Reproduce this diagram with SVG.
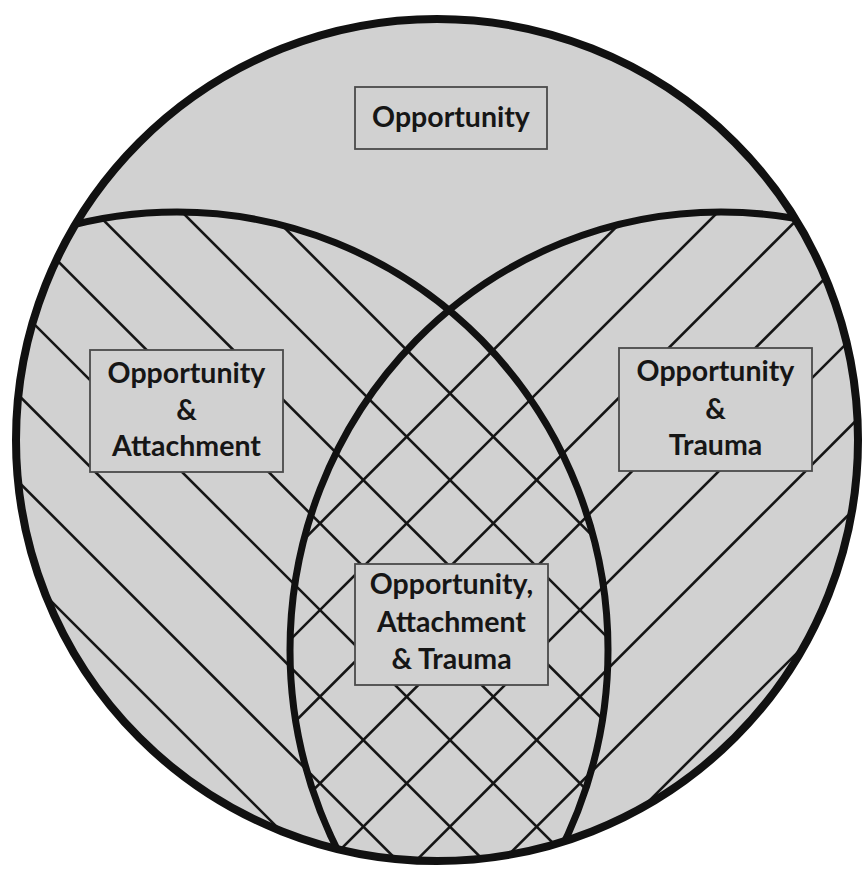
<svg xmlns="http://www.w3.org/2000/svg" width="863" height="869" viewBox="0 0 863 869">
  <style>
    .bg { fill: #ffffff; }
    .disk { fill: #d1d1d1; }
    .rim { fill: none; stroke: #111111; stroke-width: 8; }
    .oval { fill: none; stroke: #111111; stroke-width: 7; }
    .hatch { stroke: #151515; stroke-width: 2.6; fill: none; }
    .box { fill: #d1d1d1; stroke: #4a4a4a; stroke-width: 1.8; }
    .label { font-family: Lato, "Liberation Sans", Arial, sans-serif; font-weight: bold; font-size: 28.5px; fill: #161616; text-anchor: middle; }
  </style>
  <defs>
    <clipPath id="clipDisk"><circle cx="437" cy="440" r="421"/></clipPath>
    <clipPath id="clipLeft"><ellipse cx="177" cy="650" rx="431" ry="438"/></clipPath>
    <clipPath id="clipRight"><ellipse cx="721" cy="650" rx="431" ry="438"/></clipPath>
  </defs>
  <rect class="bg" x="0" y="0" width="863" height="869"/>
  <g id="regions">
    <circle class="disk" cx="437" cy="440" r="421"/>
    <g clip-path="url(#clipDisk)">
      <g id="hatch-attachment" clip-path="url(#clipLeft)">
        <line class="hatch" x1="-50" y1="-626.7" x2="900" y2="323.3"/>
        <line class="hatch" x1="-50" y1="-540" x2="900" y2="410"/>
        <line class="hatch" x1="-50" y1="-453.3" x2="900" y2="496.7"/>
        <line class="hatch" x1="-50" y1="-366.7" x2="900" y2="583.3"/>
        <line class="hatch" x1="-50" y1="-280" x2="900" y2="670"/>
        <line class="hatch" x1="-50" y1="-193.3" x2="900" y2="756.7"/>
        <line class="hatch" x1="-50" y1="-106.7" x2="900" y2="843.3"/>
        <line class="hatch" x1="-50" y1="-20" x2="900" y2="930"/>
        <line class="hatch" x1="-50" y1="66.7" x2="900" y2="1016.7"/>
        <line class="hatch" x1="-50" y1="153.3" x2="900" y2="1103.3"/>
        <line class="hatch" x1="-50" y1="240" x2="900" y2="1190"/>
        <line class="hatch" x1="-50" y1="326.7" x2="900" y2="1276.7"/>
        <line class="hatch" x1="-50" y1="413.3" x2="900" y2="1363.3"/>
        <line class="hatch" x1="-50" y1="500" x2="900" y2="1450"/>
      </g>
      <g id="hatch-trauma" clip-path="url(#clipRight)">
        <line class="hatch" x1="-50" y1="373.3" x2="900" y2="-576.7"/>
        <line class="hatch" x1="-50" y1="460" x2="900" y2="-490"/>
        <line class="hatch" x1="-50" y1="546.7" x2="900" y2="-403.3"/>
        <line class="hatch" x1="-50" y1="633.3" x2="900" y2="-316.7"/>
        <line class="hatch" x1="-50" y1="720" x2="900" y2="-230"/>
        <line class="hatch" x1="-50" y1="806.7" x2="900" y2="-143.3"/>
        <line class="hatch" x1="-50" y1="893.3" x2="900" y2="-56.7"/>
        <line class="hatch" x1="-50" y1="980" x2="900" y2="30"/>
        <line class="hatch" x1="-50" y1="1066.7" x2="900" y2="116.7"/>
        <line class="hatch" x1="-50" y1="1153.3" x2="900" y2="203.3"/>
        <line class="hatch" x1="-50" y1="1240" x2="900" y2="290"/>
        <line class="hatch" x1="-50" y1="1326.7" x2="900" y2="376.7"/>
        <line class="hatch" x1="-50" y1="1413.3" x2="900" y2="463.3"/>
        <line class="hatch" x1="-50" y1="1500" x2="900" y2="550"/>
      </g>
      <ellipse class="oval" cx="177" cy="650" rx="431" ry="438"/>
      <ellipse class="oval" cx="721" cy="650" rx="431" ry="438"/>
    </g>
    <circle class="rim" cx="437" cy="440" r="421"/>
  </g>
  <g id="node-opportunity">
    <rect class="box" x="355" y="87" width="192" height="62"/>
    <text class="label" x="451" y="127">Opportunity</text>
  </g>
  <g id="node-opportunity-attachment">
    <rect class="box" x="90" y="350" width="193" height="122"/>
    <text class="label" x="186.5" y="383">Opportunity</text>
    <text class="label" x="186.5" y="420">&amp;</text>
    <text class="label" x="186.5" y="456">Attachment</text>
  </g>
  <g id="node-opportunity-trauma">
    <rect class="box" x="619" y="348" width="193" height="123"/>
    <text class="label" x="715.5" y="381">Opportunity</text>
    <text class="label" x="715.5" y="419">&amp;</text>
    <text class="label" x="715.5" y="455">Trauma</text>
  </g>
  <g id="node-all">
    <rect class="box" x="355" y="564" width="193" height="121"/>
    <text class="label" x="451.5" y="594">Opportunity,</text>
    <text class="label" x="451.5" y="632">Attachment</text>
    <text class="label" x="451.5" y="669">&amp; Trauma</text>
  </g>
</svg>
